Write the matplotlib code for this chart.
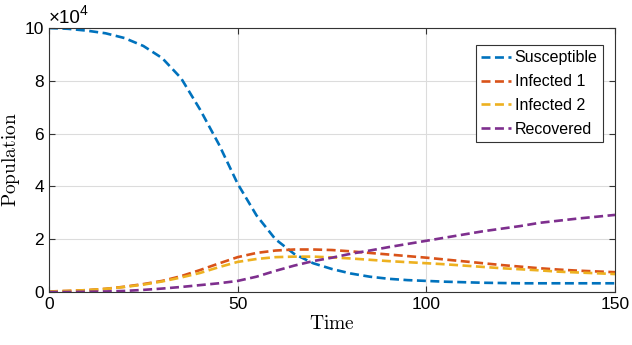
import matplotlib
matplotlib.use("Agg")
import matplotlib.pyplot as plt

time = list(range(0, 151, 5))
susceptible = [10.0, 9.97, 9.9, 9.8, 9.62, 9.32, 8.86, 8.1, 6.92, 5.6, 4.1, 2.9, 2.0, 1.44, 1.09, 0.87, 0.7, 0.58, 0.5, 0.45, 0.42, 0.39, 0.37, 0.35, 0.34, 0.33, 0.33, 0.33, 0.33, 0.33, 0.33]
infected1 = [0.02, 0.04, 0.07, 0.12, 0.2, 0.3, 0.42, 0.6, 0.83, 1.08, 1.32, 1.48, 1.57, 1.61, 1.61, 1.59, 1.54, 1.48, 1.42, 1.36, 1.3, 1.23, 1.16, 1.09, 1.02, 0.96, 0.9, 0.85, 0.81, 0.78, 0.75]
infected2 = [0.02, 0.04, 0.07, 0.12, 0.19, 0.28, 0.4, 0.55, 0.72, 0.94, 1.14, 1.25, 1.32, 1.34, 1.34, 1.31, 1.27, 1.22, 1.17, 1.13, 1.09, 1.05, 1.0, 0.95, 0.9, 0.86, 0.82, 0.77, 0.74, 0.71, 0.68]
recovered = [0.0, 0.0, 0.01, 0.02, 0.04, 0.08, 0.13, 0.19, 0.26, 0.33, 0.42, 0.58, 0.8, 1.0, 1.17, 1.3, 1.45, 1.57, 1.7, 1.82, 1.94, 2.06, 2.18, 2.3, 2.4, 2.5, 2.62, 2.7, 2.78, 2.85, 2.92]

labels = ["Susceptible", "Infected 1", "Infected 2", "Recovered"]
colors = ["#0072BD", "#D95319", "#EDB120", "#7E2F8E"]

plt.rcParams['font.family'] = ['Liberation Sans', 'DejaVu Sans']
plt.rcParams['mathtext.fontset'] = 'cm'

fig = plt.figure(figsize=(6.32, 3.45), dpi=100)
ax = fig.add_axes([49/632, 1-292/345, (615-49)/632, (292-28)/345])

for y, lab, c in zip([susceptible, infected1, infected2, recovered], labels, colors):
    ax.plot(time, y, linestyle=(0, (3.4, 1.7)), color=c, lw=1.9, label=lab)

ax.set_xlim(0, 150)
ax.set_ylim(0, 10)
ax.set_xticks([0, 50, 100, 150])
ax.set_yticks([0, 2, 4, 6, 8, 10])
ax.grid(True, color='#dcdcdc', lw=0.8)
ax.set_axisbelow(True)
ax.tick_params(direction='in', top=True, right=True, labelsize=12.5, length=4, color='#333333', width=0.8)
for s in ax.spines.values():
    s.set_color('#333333')
    s.set_linewidth(0.8)

ax.set_xlabel(r'$\mathrm{Time}$', fontsize=14, labelpad=2)
ax.set_ylabel(r'$\mathrm{Population}$', fontsize=14)
ax.yaxis.set_label_coords(-27/566, 0.5)
ax.text(0.0, 1 + 5/264, '×10', transform=ax.transAxes, fontsize=13.5, ha='left', va='baseline')
ax.text(31/566, 1 + 13/264, '4', transform=ax.transAxes, fontsize=10, ha='left', va='baseline')

leg = ax.legend(loc='upper right', bbox_to_anchor=(0.979, 0.936), fontsize=11.5, frameon=True,
                fancybox=False, edgecolor='#333333', framealpha=1, handlelength=1.9,
                handletextpad=0.2, borderpad=0.35, labelspacing=0.55, borderaxespad=0)
leg.get_frame().set_linewidth(0.8)

fig.savefig("out.png", dpi=100)
